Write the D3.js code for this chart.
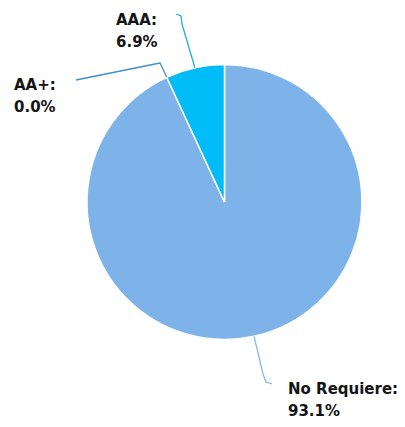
<!DOCTYPE html>
<html>
<head>
<meta charset="utf-8">
<script src="https://cdn.jsdelivr.net/npm/d3@7"></script>
<style>
  body { margin: 0; background: #fff; }
  text { font-family: "DejaVu Sans", sans-serif; font-weight: bold; font-size: 15px; fill: #141414; }
</style>
</head>
<body>
<svg width="405" height="427"></svg>
<script>
const categories = ['No Requiere', 'AA+', 'AAA'];
const values = [93.1, 0.0, 6.9];
const percentLabels = ['93.1%', '0.0%', '6.9%'];
const colors = ['#7db3e8', '#3a8fd6', '#00bdf7'];
const lineColors = ['#86b8e8', '#3b90d4', '#22aede'];

// label anchors and leader line bends (layout only)
const labelPos = [
  { x: 288, y: 394, bend: [[263, 374], [266, 382], [272, 384]] },
  { x: 14,  y: 90,  bend: [[162, 67], [160, 63], [155, 64], [76, 80]] },
  { x: 116, y: 25,  bend: [[182, 24], [181, 16], [176, 14]] }
];

const cx = 224.5, cy = 202, radius = 137.5;
const svg = d3.select('svg');

const pie = d3.pie().sort(null).value(d => d);
const arcs = pie(values);
const arc = d3.arc().innerRadius(0).outerRadius(radius);

const chart = svg.append('g')
  .attr('transform', `translate(${cx}, ${cy})`);

chart.selectAll('path.slice')
  .data(arcs)
  .enter()
  .append('path')
  .attr('class', 'slice')
  .attr('d', arc)
  .attr('fill', (d, i) => colors[i])
  .attr('stroke', '#fff')
  .attr('stroke-width', 1.5);

// leader lines from slice middle on the rim
const line = d3.line().curve(d3.curveLinear);
arcs.forEach((a, i) => {
  const mid = (a.startAngle + a.endAngle) / 2;
  const start = [cx + radius * Math.sin(mid), cy - radius * Math.cos(mid)];
  svg.append('path')
    .attr('d', line([start, ...labelPos[i].bend]))
    .attr('fill', 'none')
    .attr('stroke', lineColors[i])
    .attr('stroke-width', 1.3);
});

const labels = svg.selectAll('text.lbl')
  .data(categories)
  .enter()
  .append('text')
  .attr('class', 'lbl')
  .attr('x', (d, i) => labelPos[i].x)
  .attr('y', (d, i) => labelPos[i].y);

labels.append('tspan').text(d => d + ':');
labels.append('tspan')
  .attr('x', (d, i) => labelPos[i].x)
  .attr('dy', 22)
  .text((d, i) => percentLabels[i]);
</script>
</body>
</html>
